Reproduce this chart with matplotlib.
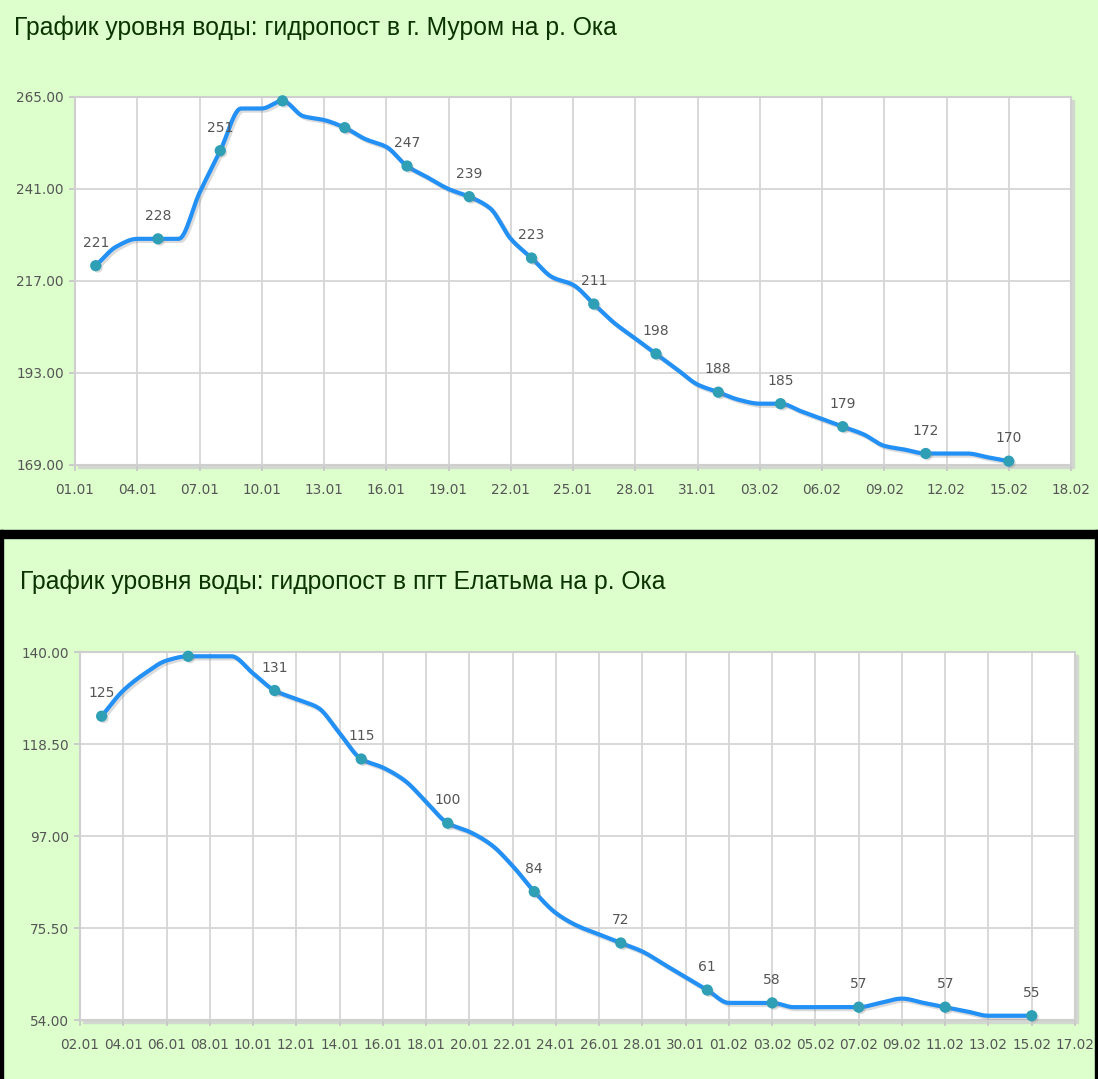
import numpy as np
import pandas as pd
import matplotlib
matplotlib.use("Agg")
import matplotlib.pyplot as plt
import matplotlib.patheffects as pe
from matplotlib.patches import Rectangle

# --- data: Murom gauge ---
murom_dates = ["02.01", "03.01", "04.01", "05.01", "06.01", "07.01", "08.01", "09.01",
               "10.01", "11.01", "12.01", "13.01", "14.01", "15.01", "16.01", "17.01",
               "18.01", "19.01", "20.01", "21.01", "22.01", "23.01", "24.01", "25.01",
               "26.01", "27.01", "28.01", "29.01", "30.01", "31.01", "01.02", "02.02",
               "03.02", "04.02", "05.02", "06.02", "07.02", "08.02", "09.02", "10.02",
               "11.02", "12.02", "13.02", "14.02", "15.02"]
murom_levels = [221, 226, 228, 228, 228, 240, 251, 262,
                262, 264, 260, 259, 257, 254, 252, 247,
                244, 241, 239, 236, 228, 223, 218, 216,
                211, 206, 202, 198, 194, 190, 188, 186,
                185, 185, 183, 181, 179, 177, 174, 173,
                172, 172, 172, 171, 170]
murom_marks = ["02.01", "05.01", "08.01", "11.01", "14.01", "17.01", "20.01", "23.01",
               "26.01", "29.01", "01.02", "04.02", "07.02", "11.02", "15.02"]
murom_nolabel = ["11.01", "14.01"]
murom_xticks = ["01.01", "04.01", "07.01", "10.01", "13.01", "16.01", "19.01", "22.01",
                "25.01", "28.01", "31.01", "03.02", "06.02", "09.02", "12.02", "15.02", "18.02"]
murom_yticks = [169, 193, 217, 241, 265]

# --- data: Elatma gauge ---
elatma_dates = ["03.01", "04.01", "05.01", "06.01", "07.01", "08.01", "09.01", "10.01",
                "11.01", "12.01", "13.01", "14.01", "15.01", "16.01", "17.01", "18.01",
                "19.01", "20.01", "21.01", "22.01", "23.01", "24.01", "25.01", "26.01",
                "27.01", "28.01", "29.01", "30.01", "31.01", "01.02", "02.02", "03.02",
                "04.02", "05.02", "06.02", "07.02", "08.02", "09.02", "10.02", "11.02",
                "12.02", "13.02", "14.02", "15.02"]
elatma_levels = [125, 131, 135, 138, 139, 139, 139, 135,
                 131, 129, 127, 121, 115, 113, 110, 105,
                 100, 98, 95, 90, 84, 79, 76, 74,
                 72, 70, 67, 64, 61, 58, 58, 58,
                 57, 57, 57, 57, 58, 59, 58, 57,
                 56, 55, 55, 55]
elatma_marks = ["03.01", "07.01", "11.01", "15.01", "19.01", "23.01", "27.01", "31.01",
                "03.02", "07.02", "11.02", "15.02"]
elatma_nolabel = ["07.01"]
elatma_xticks = ["02.01", "04.01", "06.01", "08.01", "10.01", "12.01", "14.01", "16.01",
                 "18.01", "20.01", "22.01", "24.01", "26.01", "28.01", "30.01", "01.02",
                 "03.02", "05.02", "07.02", "09.02", "11.02", "13.02", "15.02", "17.02"]
elatma_yticks = [54.0, 75.5, 97.0, 118.5, 140.0]

BG = "#dcffcc"
LINE = "#2290f5"
MARK = "#2f9fb5"
GRID = "#d6d6d6"
TXT = "#555555"
W, H = 1098, 1079


def to_day(labels):
    d = pd.to_datetime(labels, format="%d.%m")
    return np.array((d - pd.Timestamp("1900-01-01")).days, dtype=float)


def pchip(x, y, xs):
    x = np.asarray(x, float)
    y = np.asarray(y, float)
    h = np.diff(x)
    d = np.diff(y) / h
    m = np.zeros_like(y)
    for k in range(1, len(y) - 1):
        if d[k - 1] * d[k] > 0:
            w1 = 2 * h[k] + h[k - 1]
            w2 = h[k] + 2 * h[k - 1]
            m[k] = (w1 + w2) / (w1 / d[k - 1] + w2 / d[k])
    m[0] = d[0]
    m[-1] = d[-1]
    i = np.clip(np.searchsorted(x, xs) - 1, 0, len(x) - 2)
    t = (xs - x[i]) / h[i]
    h00 = 2 * t**3 - 3 * t**2 + 1
    h10 = t**3 - 2 * t**2 + t
    h01 = -2 * t**3 + 3 * t**2
    h11 = t**3 - t**2
    return h00 * y[i] + h10 * h[i] * m[i] + h01 * y[i + 1] + h11 * h[i] * m[i + 1]


def draw_panel(fig, box, dates, levels, marks, nolabel, xticks, yticks, yfmt):
    l, t, r, b = box
    # frame shadow
    fig.patches.append(Rectangle(((l + 3) / W, 1 - (b + 3) / H), (r - l) / W, (b - t) / H,
                                 transform=fig.transFigure, color="#d2d8cf", zorder=0))
    ax = fig.add_axes([l / W, 1 - b / H, (r - l) / W, (b - t) / H], zorder=2)
    ax.set_facecolor("white")
    x = to_day(dates)
    y = np.array(levels, float)
    xs = np.linspace(x[0], x[-1], 600)
    ax.plot(xs, pchip(x, y, xs), color=LINE, lw=3.0, solid_capstyle="round", zorder=3,
            path_effects=[pe.SimpleLineShadow(offset=(1.5, -1.5), shadow_color="#888888", alpha=0.3),
                          pe.Normal()])
    idx = [dates.index(m) for m in marks]
    ax.scatter(x[idx], y[idx], s=50, color=MARK, zorder=4, clip_on=False,
               path_effects=[pe.SimplePatchShadow(offset=(1.5, -1.5), shadow_rgbFace="#888888", alpha=0.3),
                             pe.Normal()])
    for i in idx:
        if dates[i] in nolabel:
            continue
        ax.annotate(str(levels[i]), (x[i], y[i]), xytext=(0, 16.5), textcoords="offset points",
                    ha="center", va="center", fontsize=10, color=TXT, zorder=5)
    xt = to_day(xticks)
    ax.set_xlim(xt[0], xt[-1])
    ax.set_ylim(yticks[0], yticks[-1])
    ax.set_xticks(xt)
    ax.set_xticklabels(xticks)
    ax.set_yticks(yticks)
    ax.set_yticklabels([yfmt.format(v) for v in yticks])
    ax.grid(True, color=GRID, lw=1.3)
    ax.set_axisbelow(True)
    for s in ax.spines.values():
        s.set_color("#cfcfcf")
        s.set_linewidth(1.5)
    ax.tick_params(direction="out", length=4, width=1.3, color="#c8c8c8",
                   labelcolor=TXT, labelsize=9.8, pad=4)
    ax.tick_params(axis="x", pad=9)
    return ax


fig = plt.figure(figsize=(W / 100, H / 100), dpi=100, facecolor=BG)

# separator and border of the lower block
fig.patches.append(Rectangle((0, 1 - 538 / H), 1, 8 / H, transform=fig.transFigure,
                             color="black", zorder=1))
fig.patches.append(Rectangle((0, 0), 2.5 / W, (H - 530) / H, transform=fig.transFigure,
                             color="black", zorder=1))
fig.patches.append(Rectangle((1 - 3 / W, 0), 3 / W, (H - 530) / H, transform=fig.transFigure,
                             color="black", zorder=1))

fig.text(14 / W, 1 - 28 / H, "График уровня воды: гидропост в г. Муром на р. Ока",
         fontsize=17.8, family="Liberation Sans", color="#0a3300", va="center")
fig.text(20 / W, 1 - 582 / H, "График уровня воды: гидропост в пгт Елатьма на р. Ока",
         fontsize=17.8, family="Liberation Sans", color="#0a3300", va="center")

draw_panel(fig, (75, 97, 1071, 465), murom_dates, murom_levels, murom_marks,
           murom_nolabel, murom_xticks, murom_yticks, "{:.2f}")
draw_panel(fig, (80, 652, 1075, 1020), elatma_dates, elatma_levels, elatma_marks,
           elatma_nolabel, elatma_xticks, elatma_yticks, "{:.2f}")

fig.savefig("out.png", dpi=100, facecolor=BG)
